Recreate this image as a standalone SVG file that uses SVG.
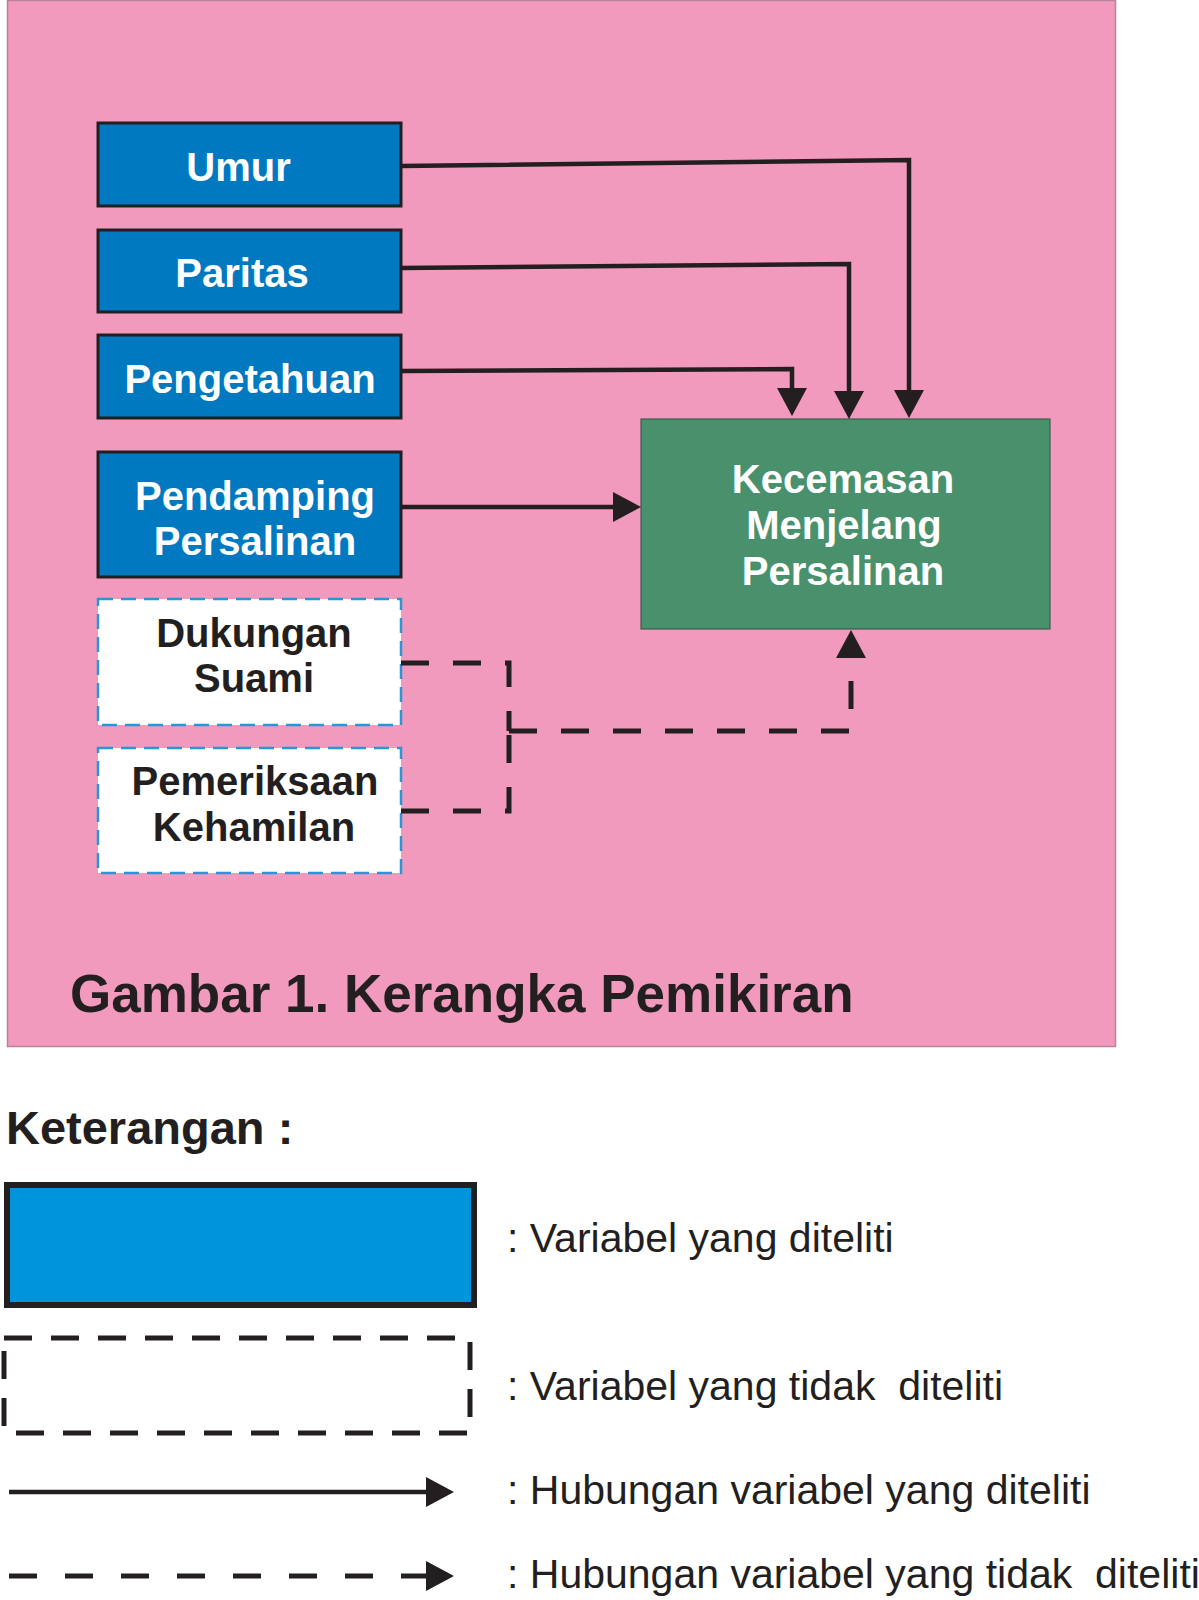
<svg xmlns="http://www.w3.org/2000/svg" width="1199" height="1600" viewBox="0 0 1199 1600">
<style>
  .bg { fill: #F19ABD; stroke: #B88399; stroke-width: 1.5; }
  .var { fill: #0079C1; stroke: #231F20; stroke-width: 3; }
  .novar { fill: #FFFFFF; stroke: #2A96D6; stroke-width: 2.5; stroke-dasharray: 15 8; }
  .dep { fill: #48916C; stroke: #3D5E4C; stroke-width: 1.2; }
  .wt { font-family: "Liberation Sans", Arial, sans-serif; font-weight: bold; font-size: 40px; fill: #FFFFFF; text-anchor: middle; }
  .dk { font-family: "Liberation Sans", Arial, sans-serif; font-weight: bold; font-size: 40px; fill: #231F20; text-anchor: middle; }
  .solid { fill: none; stroke: #231F20; stroke-width: 4.5; }
  .dash { fill: none; stroke: #231F20; stroke-width: 5; stroke-dasharray: 28 24; }
  .leg { font-family: "Liberation Sans", Arial, sans-serif; font-size: 41px; fill: #231F20; white-space: pre; }
  .cap { font-family: "Liberation Sans", Arial, sans-serif; font-weight: bold; fill: #231F20; }
</style>
<defs>
  <marker id="ah" markerUnits="userSpaceOnUse" markerWidth="28" markerHeight="30" refX="17" refY="15" orient="auto">
    <path d="M0,0 L28,15 L0,30 z" fill="#231F20"/>
  </marker>
</defs>

<rect class="bg" x="7.5" y="0.5" width="1108" height="1046"/>

<g id="node-umur">
  <rect class="var" x="98" y="123" width="303" height="83"/>
  <text class="wt" x="238.5" y="181">Umur</text>
</g>
<g id="node-paritas">
  <rect class="var" x="98" y="230" width="303" height="82"/>
  <text class="wt" x="242" y="287">Paritas</text>
</g>
<g id="node-pengetahuan">
  <rect class="var" x="98" y="335" width="303" height="83"/>
  <text class="wt" x="250" y="393">Pengetahuan</text>
</g>
<g id="node-pendamping">
  <rect class="var" x="98" y="452" width="303" height="125"/>
  <text class="wt" x="255" y="510">Pendamping</text>
  <text class="wt" x="255" y="555">Persalinan</text>
</g>
<g id="node-dukungan">
  <rect class="novar" x="98" y="599" width="303" height="126"/>
  <text class="dk" x="254" y="647">Dukungan</text>
  <text class="dk" x="254" y="692">Suami</text>
</g>
<g id="node-pemeriksaan">
  <rect class="novar" x="98" y="748" width="303" height="125"/>
  <text class="dk" x="255" y="795">Pemeriksaan</text>
  <text class="dk" x="254" y="841">Kehamilan</text>
</g>
<g id="node-kecemasan">
  <rect class="dep" x="641" y="419" width="409" height="210"/>
  <text class="wt" x="843" y="493">Kecemasan</text>
  <text class="wt" x="844" y="539">Menjelang</text>
  <text class="wt" x="843" y="585">Persalinan</text>
</g>

<g id="connectors">
  <path class="solid" d="M401,166 L909,160 L909,407" marker-end="url(#ah)"/>
  <path class="solid" d="M401,268 L849,264 L849,408" marker-end="url(#ah)"/>
  <path class="solid" d="M401,371 L792,369 L792,405" marker-end="url(#ah)"/>
  <path class="solid" d="M401,507 L630,507" marker-end="url(#ah)"/>
  <path class="dash" d="M401,663 L509,663 L509,731"/>
  <path class="dash" d="M401,811 L509,811 L509,731"/>
  <path class="dash" d="M509,731 L851,731 L851,641" marker-end="url(#ah)"/>
</g>

<text class="cap" x="70" y="1012" font-size="53">Gambar 1. Kerangka Pemikiran</text>

<g id="legend">
  <text class="cap" x="6" y="1144" font-size="47">Keterangan :</text>
  <rect x="7" y="1185" width="467" height="120" fill="#0094DD" stroke="#231F20" stroke-width="6"/>
  <text class="leg" x="507" y="1252">: Variabel yang diteliti</text>
  <rect x="4" y="1338" width="466" height="95" fill="none" stroke="#231F20" stroke-width="5" stroke-dasharray="28 19"/>
  <text class="leg" x="507" y="1400" xml:space="preserve">: Variabel yang tidak  diteliti</text>
  <path class="solid" d="M9,1492 L443,1492" marker-end="url(#ah)"/>
  <text class="leg" x="507" y="1504">: Hubungan variabel yang diteliti</text>
  <path d="M9,1576 L443,1576" fill="none" stroke="#231F20" stroke-width="5" stroke-dasharray="28 28" marker-end="url(#ah)"/>
  <text class="leg" x="507" y="1588" xml:space="preserve">: Hubungan variabel yang tidak  diteliti</text>
</g>
</svg>
